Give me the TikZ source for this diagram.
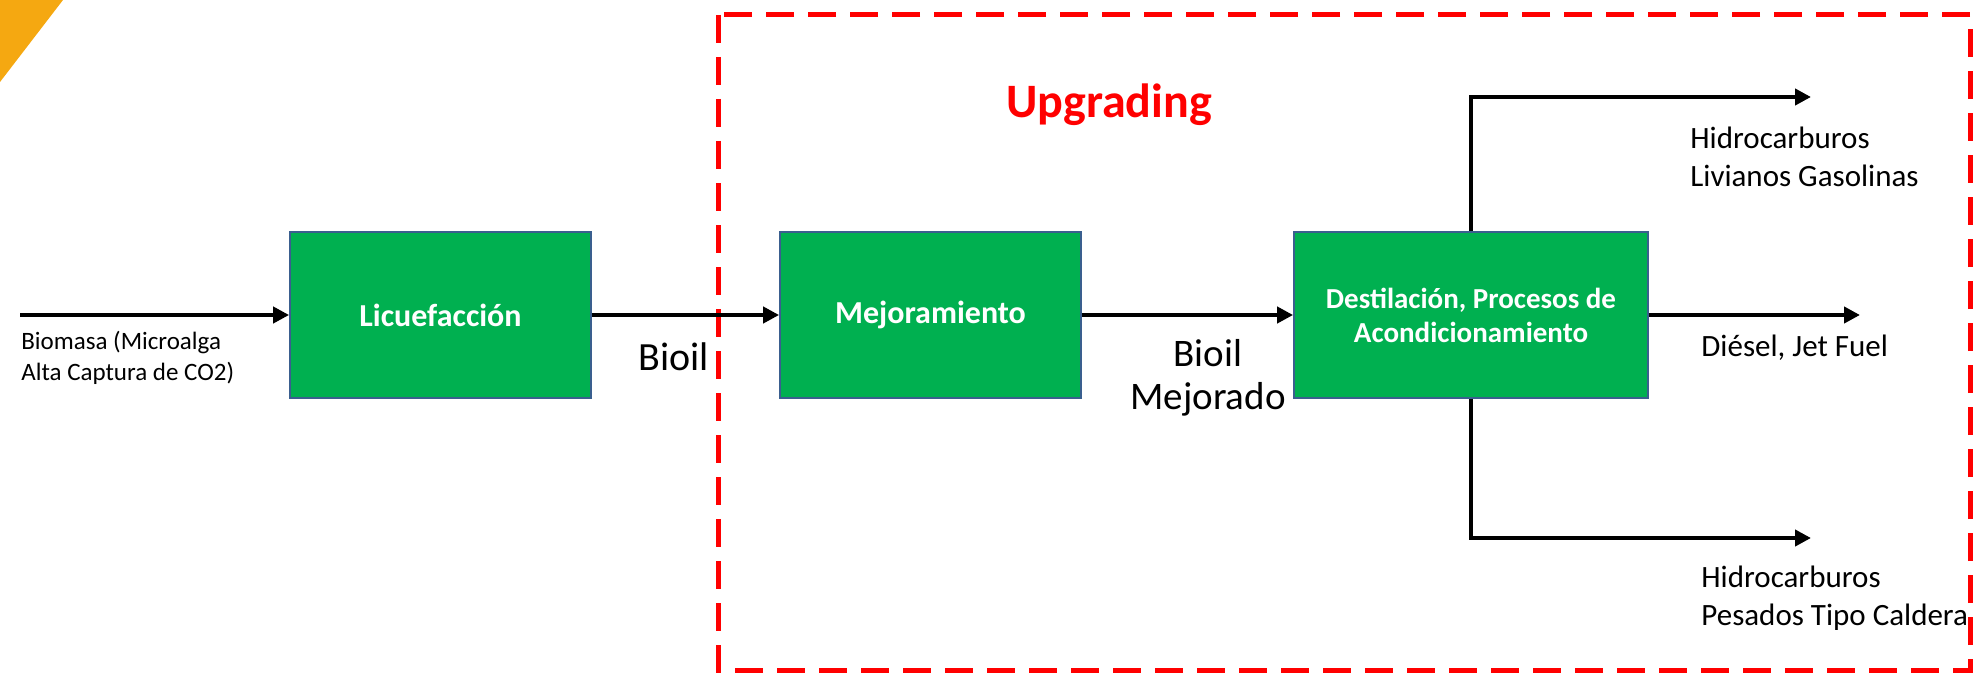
\documentclass[tikz,border=0pt]{standalone}
\usepackage{fontspec}
\setmainfont{Carlito}
\usetikzlibrary{arrows.meta}
\definecolor{boxgreen}{HTML}{00B050}
\definecolor{boxedge}{HTML}{3A5F8F}
\definecolor{tri}{HTML}{F5A811}
\definecolor{upred}{HTML}{FF0000}
\tikzset{
  procbox/.style={draw=boxedge, line width=0.9pt, fill=boxgreen, text=white, font=\bfseries, align=center, inner sep=0pt},
  flow/.style={draw=black, line width=2pt, -{Triangle[length=8pt,width=8pt]}},
  lbl/.style={align=left, inner sep=0pt, anchor=west},
}
\begin{document}
\begin{tikzpicture}[x=0.5pt,y=-0.5pt]
\useasboundingbox (0,0) rectangle (1976,674);
% orange corner
\fill[tri] (0,0) -- (63,0) -- (0,82) -- cycle;
% dashed upgrading frame
\draw[upred, line width=2.5pt, dash pattern=on 14pt off 7pt] (718,15) rectangle (1970,670);
\node[text=upred, font=\bfseries\fontsize{24}{29}\selectfont] (up) at (1109,105) {Upgrading};
% boxes
\node[procbox, minimum width=150.5pt, minimum height=83pt, font=\bfseries\fontsize{16}{19}\selectfont] (lic) at (440.5,315) {Licuefacción};
\node[procbox, minimum width=150.5pt, minimum height=83pt, font=\bfseries\fontsize{16}{19}\selectfont] (mej) at (930.5,315) {Mejoramiento};
\node[procbox, minimum width=177pt, minimum height=83pt, font=\bfseries\fontsize{14.5}{17}\selectfont] (des) at (1471,315) {Destilación, Procesos de\\Acondicionamiento};
% free ends
\coordinate (in) at (20,315);
\coordinate (dieselend) at (1860,315);
\coordinate (topend) at (1811,97);
\coordinate (botend) at (1811,538);
% connectors
\draw[flow] (in) -- (lic.west);
\draw[flow] (lic.east) -- (mej.west);
\draw[flow] (mej.east) -- (des.west);
\draw[flow] (des.east) -- (dieselend);
\draw[flow] (des.north) |- (topend);
\draw[flow] (des.south) |- (botend);
% labels
\node[lbl, font=\fontsize{12.5}{15.5}\selectfont] (bio) at (21,358) {Biomasa (Microalga\\Alta Captura de CO2)};
\node[font=\fontsize{20}{24}\selectfont, inner sep=0pt] (bioil) at (674,357) {Bioil};
\node[font=\fontsize{19.5}{21.5}\selectfont, align=center, inner sep=0pt] (bioilm) at (1208,378) {Bioil\\Mejorado};
\node[lbl, font=\fontsize{15.5}{19}\selectfont] (liv) at (1690,157) {Hidrocarburos\\Livianos Gasolinas};
\node[lbl, font=\fontsize{15.5}{19}\selectfont] (die) at (1701,348) {Diésel, Jet Fuel};
\node[lbl, font=\fontsize{15.5}{19}\selectfont] (pes) at (1701,598) {Hidrocarburos\\Pesados Tipo Caldera};
\end{tikzpicture}
\end{document}
